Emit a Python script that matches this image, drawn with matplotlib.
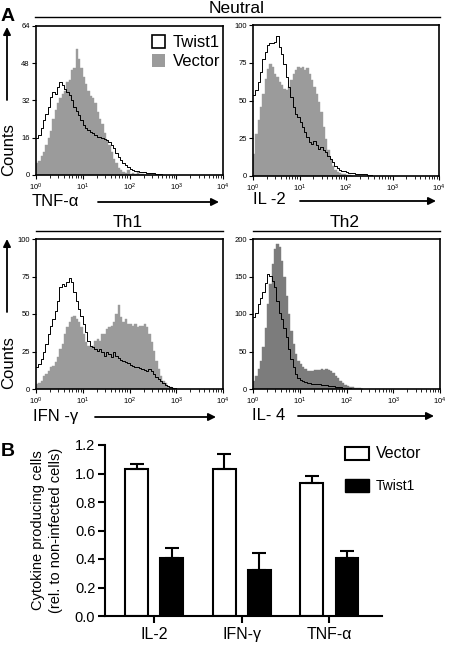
import matplotlib
matplotlib.use("Agg")
import matplotlib.pyplot as plt
from matplotlib.patches import Patch, FancyArrowPatch
from matplotlib.lines import Line2D
import numpy as np

plt.rcParams['font.family'] = ['Liberation Sans', 'DejaVu Sans']

W, H = 450, 647
LOG_STEP = 0.05  # histogram bin width in decades, first bin at 10^0

# Panel A histograms (counts per bin)
TNF_TWIST1 = [15.7, 17, 20, 23.6, 26.4, 29.3, 33.5, 35.7, 35, 38, 40, 38.6, 37, 35.7, 34.3,
              32, 29.3, 27.5, 25.7, 23.5, 21.4, 20, 19.3, 18.6, 17.9, 17, 16.4, 16.4, 15.7,
              15.3, 15, 14.3, 12.9, 11.4, 9.6, 7.9, 6.4, 5.3, 4.1, 3.3, 2.6, 2.1, 1.9, 1.6,
              1.4, 1.3, 1.1, 1.0, 0.9, 0.8, 0.7, 0.6, 0.5, 0.4, 0.2]
TNF_VECTOR = [5, 6, 8, 10, 13, 16, 19, 24, 28, 31, 33, 35, 36, 40, 41, 45, 46, 54, 50, 46,
              42, 39, 36, 34, 33, 31, 27, 24, 22, 18, 15, 13, 10, 7, 5, 3, 2, 1.5, 1, 2, 0.5,
              1, 0.5, 1.5, 0.5, 0.3]
IL2_TWIST1 = [53.4, 56.8, 62.3, 69, 77.8, 82.3, 86.7, 87.8, 87.8, 89, 93, 85.6, 81, 74.5,
              65.6, 59, 52.3, 45.7, 41.2, 39, 35.7, 32.4, 29, 25.7, 22.4, 21.3, 23.5, 20.2,
              18, 19, 16.9, 15.7, 13.5, 11.3, 9.1, 6.9, 5.1, 4, 3.5, 3.1, 2.4, 2.2, 2, 1.8,
              1.5, 1.5, 1.3, 1, 1.2, 0.8, 0.5]
IL2_VECTOR = [14.6, 28, 36.8, 45.7, 54.5, 64.5, 71, 74.5, 72.3, 67.8, 65.6, 62.3, 60, 57.9,
              56.8, 59, 63.4, 67.8, 70, 72.3, 71.2, 72.3, 70, 71.2, 67.8, 63.4, 59, 54.5, 49,
              42.4, 32.4, 24.6, 16.9, 11.3, 6.9, 4.2, 2.9, 2, 1.5, 1, 0.8, 0.5, 0.3]
IFN_TWIST1 = [14.4, 16.7, 20, 24.4, 30, 36.7, 42.2, 46.7, 52.2, 58.9, 67.8, 70, 68.9, 71.1,
              74, 71.1, 64.4, 58.9, 53.3, 48.9, 43.3, 37.8, 32.2, 28.9, 27.8, 26.7, 25.6,
              26.7, 24.4, 22.2, 24.4, 23.3, 21.1, 24.4, 22.2, 20.7, 19.3, 18.9, 17.8, 17.1,
              16.2, 15.6, 14.4, 14.4, 13.8, 13.3, 12.7, 12.2, 13.3, 11.8, 10, 8.2, 6.7, 5.1,
              3.8, 2.9, 2, 1.3, 0.9, 0.4]
IFN_VECTOR = [3.3, 3.8, 5.6, 8.9, 10, 12.2, 14.4, 15.6, 17.8, 21.1, 26.7, 30, 36.7, 41.1,
              44.4, 47.8, 48.9, 46.7, 44.4, 41.1, 36.7, 31.1, 28.9, 27.8, 28.9, 32.2, 33.3,
              32.2, 36.7, 36.7, 40, 41.1, 42.2, 44.4, 50, 56, 47.8, 44.4, 46.7, 43.3, 43.3,
              42.2, 43.3, 41.1, 42.2, 42.2, 43.3, 41.1, 36.7, 31.1, 25.6, 18.9, 13.3, 8.9,
              5.6, 3.8, 2.2, 1.3, 0.5]
IL4_TWIST1 = [95.6, 102, 113, 122, 129, 142, 153, 151, 144, 136, 118, 102, 93, 82, 69, 53,
              40, 29, 20, 14.7, 12, 10.2, 8.9, 8, 7.6, 7.1, 6.7, 6.2, 6.2, 5.8, 5.3, 4.9,
              4.4, 4, 3.6, 3.1, 2.7, 2.2, 1.8, 1.3, 1.0, 0.7, 0.4]
IL4_VECTOR = [11, 17.8, 26.7, 37.8, 55.6, 82, 113, 140, 167, 187, 193, 189, 171, 149, 124,
              100, 78, 60, 46.7, 37.8, 33.3, 28.9, 26.7, 24.4, 24.4, 24.4, 25.3, 25.3, 25.8,
              26.7, 25.3, 26.7, 25.3, 23.6, 20.9, 17.8, 14.7, 11.1, 8, 5.8, 4, 3.1, 2.2, 1.8,
              1.3, 0.8, 0.4]

# Panel B bar chart
CYTOKINES = ['IL-2', 'IFN-γ', 'TNF-α']
VECTOR_MEAN = [1.035, 1.03, 0.935]
VECTOR_ERR = [0.03, 0.11, 0.05]
TWIST1_MEAN = [0.405, 0.325, 0.41]
TWIST1_ERR = [0.075, 0.115, 0.045]
B_YTICKS = [0.0, 0.2, 0.4, 0.6, 0.8, 1.0, 1.2]


def fx(px):
    return px / W


def fy(py):
    return 1 - py / H


def step_xy(values):
    # bin edges on the log grid, values repeated so the last bin is closed
    edges = 10 ** (np.arange(len(values) + 1) * LOG_STEP)
    vals = np.append(values, values[-1])
    return edges, vals


def draw_hist(ax, vector, twist, ymax, yticks, fill_color):
    xv, yv = step_xy(vector)
    ax.fill_between(xv, 0, yv, step='post', facecolor=fill_color, edgecolor=fill_color,
                    lw=0.3)
    xt, yt = step_xy(twist)
    ax.step(xt, yt, where='post', color='black', lw=0.7)
    ax.set_xscale('log')
    ax.set_xlim(1, 1e4)
    ax.set_ylim(0, ymax)
    ax.set_yticks(yticks)
    ax.set_xticks([1, 10, 100, 1000, 10000])
    ax.tick_params(axis='both', which='major', direction='out', length=3, width=0.8,
                   labelsize=5.5, pad=1.5)
    ax.tick_params(axis='x', which='minor', direction='out', length=2, width=0.6)
    for sp in ax.spines.values():
        sp.set_linewidth(1.2)


def hline(fig, x0, x1, y):
    fig.add_artist(Line2D([fx(x0), fx(x1)], [fy(y), fy(y)], transform=fig.transFigure,
                          color='black', lw=1.0))


def arrow(fig, x0, y0, x1, y1):
    fig.add_artist(FancyArrowPatch((fx(x0), fy(y0)), (fx(x1), fy(y1)),
                                   transform=fig.transFigure, arrowstyle='-|>',
                                   mutation_scale=11, lw=1.3, color='black',
                                   shrinkA=0, shrinkB=0))


def main():
    fig = plt.figure(figsize=(4.5, 6.47), dpi=100)

    ax1 = fig.add_axes([fx(36), fy(175), 187 / W, 149 / H])
    ax2 = fig.add_axes([fx(253), fy(176), 186 / W, 151 / H])
    ax3 = fig.add_axes([fx(36), fy(389), 187 / W, 150 / H])
    ax4 = fig.add_axes([fx(253), fy(389), 187 / W, 150 / H])

    draw_hist(ax1, TNF_VECTOR, TNF_TWIST1, 64, [0, 16, 32, 48, 64], '#9b9b9b')
    draw_hist(ax2, IL2_VECTOR, IL2_TWIST1, 100, [0, 25, 50, 75, 100], '#9b9b9b')
    draw_hist(ax3, IFN_VECTOR, IFN_TWIST1, 100, [0, 25, 50, 75, 100], '#9b9b9b')
    draw_hist(ax4, IL4_VECTOR, IL4_TWIST1, 200, [0, 50, 100, 150, 200], '#7c7c7c')

    handles = [Patch(facecolor='white', edgecolor='black', lw=1.2, label='Twist1'),
               Patch(facecolor='#9b9b9b', edgecolor='none', label='Vector')]
    ax1.legend(handles=handles, loc='upper right', bbox_to_anchor=(0.985, 0.94),
               frameon=False, fontsize=12, handlelength=0.8, handleheight=0.8,
               handletextpad=0.45, labelspacing=0.25, borderpad=0, borderaxespad=0)

    # section headers
    hline(fig, 35, 440, 17)
    fig.text(fx(237), fy(13), 'Neutral', ha='center', va='baseline', fontsize=12.5)
    hline(fig, 36, 223, 231)
    fig.text(fx(128), fy(227), 'Th1', ha='center', va='baseline', fontsize=12.5)
    hline(fig, 253, 440, 231)
    fig.text(fx(345), fy(227), 'Th2', ha='center', va='baseline', fontsize=12.5)

    # axis labels with arrows
    fig.text(fx(32), fy(202), 'TNF-α', ha='left', va='center', fontsize=12)
    arrow(fig, 98, 202, 219, 202)
    fig.text(fx(253), fy(200), 'IL -2', ha='left', va='center', fontsize=12)
    arrow(fig, 300, 201, 436, 201)
    fig.text(fx(33), fy(416), 'IFN -γ', ha='left', va='center', fontsize=12)
    arrow(fig, 95, 417, 216, 417)
    fig.text(fx(252), fy(415), 'IL- 4', ha='left', va='center', fontsize=12)
    arrow(fig, 298, 416, 434, 416)

    fig.text(fx(9), fy(150), 'Counts', rotation=90, ha='center', va='center', fontsize=12)
    arrow(fig, 7, 100, 7, 27)
    fig.text(fx(9), fy(363), 'Counts', rotation=90, ha='center', va='center', fontsize=12)
    arrow(fig, 7, 312, 7, 239)

    fig.text(fx(1), fy(21), 'A', fontsize=14, fontweight='bold', ha='left', va='baseline')
    fig.text(fx(1), fy(456), 'B', fontsize=14, fontweight='bold', ha='left', va='baseline')

    # panel B
    left_b = 105
    axb = fig.add_axes([fx(left_b), fy(616), (382 - left_b) / W, 171 / H])
    x = np.arange(len(CYTOKINES))
    off = 0.2
    axb.bar(x - off, VECTOR_MEAN, width=0.26, color='white', edgecolor='black', lw=1.5)
    axb.bar(x + off, TWIST1_MEAN, width=0.26, color='black', edgecolor='black', lw=1.5)
    axb.errorbar(x - off, VECTOR_MEAN, yerr=[np.zeros(len(x)), VECTOR_ERR], fmt='none',
                 ecolor='black', elinewidth=1.5, capsize=5, capthick=1.5)
    axb.errorbar(x + off, TWIST1_MEAN, yerr=[np.zeros(len(x)), TWIST1_ERR], fmt='none',
                 ecolor='black', elinewidth=1.5, capsize=5, capthick=1.5)
    axb.set_xlim(-0.56, 2.6)
    axb.set_ylim(0, 1.2)
    axb.set_yticks(B_YTICKS)
    axb.set_yticklabels([f'{v:.1f}' for v in B_YTICKS])
    axb.set_xticks(x)
    axb.set_xticklabels(CYTOKINES)
    axb.spines['top'].set_visible(False)
    axb.spines['right'].set_visible(False)
    axb.spines['left'].set_linewidth(1.5)
    axb.spines['bottom'].set_linewidth(1.5)
    axb.tick_params(axis='y', direction='out', length=5, width=1.5, labelsize=10.5, pad=2)
    axb.tick_params(axis='x', direction='out', length=5, width=1.5, labelsize=11.5, pad=3)

    fig.text(fx(47), fy(530), 'Cytokine producing cells\n(rel. to non-infected cells)',
             rotation=90, ha='center', va='center', fontsize=10.5, linespacing=1.45,
             multialignment='center')

    leg_handles = [Patch(facecolor='white', edgecolor='black', lw=1.5, label='Vector'),
                   Patch(facecolor='black', edgecolor='black', label='Twist1')]
    leg = axb.legend(handles=leg_handles, loc='upper left', bbox_to_anchor=(fx(345), fy(446)),
                     bbox_transform=fig.transFigure, frameon=False, fontsize=10,
                     handlelength=1.75, handleheight=1.1, handletextpad=0.5,
                     labelspacing=1.3, borderpad=0, borderaxespad=0)
    leg.get_texts()[0].set_fontsize(11.5)

    fig.savefig('out.png', dpi=100)
    plt.close(fig)


if __name__ == '__main__':
    main()
